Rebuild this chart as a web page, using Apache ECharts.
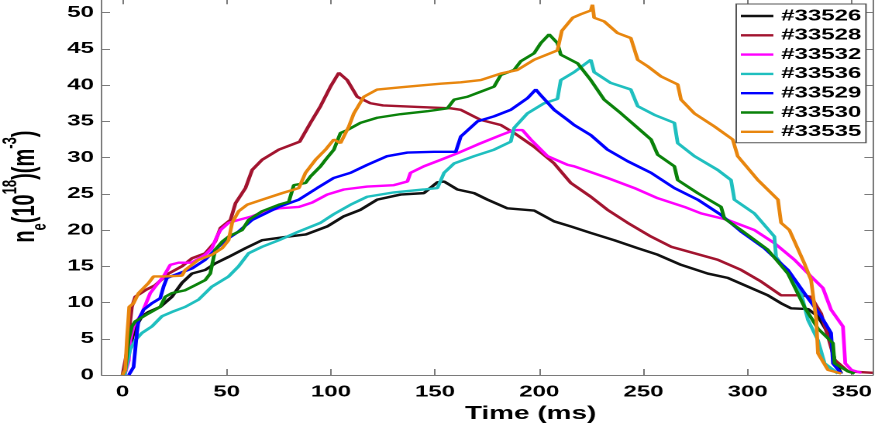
<!DOCTYPE html>
<html>
<head>
<meta charset="utf-8">
<script src="https://cdn.jsdelivr.net/npm/echarts@6/dist/echarts.min.js"></script>
<style>
  html, body { margin: 0; padding: 0; background: #fff; overflow: hidden; }
  #wrap { width: 885px; height: 424px; overflow: hidden; }
  /* the figure is drawn narrow and widened horizontally */
  #chart { width: 571px; height: 424px; transform: scaleX(1.5499); transform-origin: 0 0; }
</style>
</head>
<body>
<div id="wrap"><div id="chart"></div></div>
<script>
// Shot labels, in plotting order
const shotLabels = ['#33526', '#33528', '#33532', '#33536', '#33529', '#33530', '#33535'];
const shotColors = ['#111111', '#A2142F', '#FF00FF', '#1FBFBF', '#0000FF', '#0A820A', '#E8860E'];

// Tick values
const timeTicks = [0, 50, 100, 150, 200, 250, 300, 350];
const densityTicks = [0, 5, 10, 15, 20, 25, 30, 35, 40, 45, 50];

// Line-averaged density n_e (1e18 m^-3) against time (ms), [t, n_e]
const shot33526 = [[1,0],[3,3],[5,5.5],[6.9,6.9],[9.3,8.1],[12.5,8.7],[18.1,9.4],[23.7,10.8],[28.5,12.7],[33.3,14.0],[39.7,14.5],[44.5,15.4],[50.9,16.3],[59,17.5],[67,18.6],[79.6,19.1],[88,19.4],[98.2,20.5],[106.2,21.9],[114.2,22.8],[122.2,24.2],[133.4,24.9],[144.6,25.1],[151.1,26.6],[154.3,26.7],[160.7,25.6],[168.7,25.1],[175.1,24.2],[184.7,23.0],[197.5,22.7],[207.1,21.2],[215.1,20.5],[224.7,19.6],[235.9,18.6],[247.2,17.5],[256.8,16.6],[268,15.2],[280.8,14.0],[290.4,13.4],[298.4,12.4],[309.6,11.0],[316,9.9],[320.8,9.2],[328.9,9.1],[333.7,8.1],[338.5,5.8],[341.7,2.1],[344.9,0.2]];
const shot33528 = [[0,0],[2,3],[3.5,7],[4.5,9.4],[6.1,10.8],[10.9,11.7],[15.7,12.4],[22.1,14.0],[28.5,15.0],[33.3,16.1],[39.7,16.8],[44.5,18.4],[47,20.3],[51.8,21.4],[54.2,23.7],[59,25.8],[62.2,28.3],[67,29.7],[75,31.1],[85,32.2],[90.2,34.8],[95,37.1],[99.8,39.8],[103.8,41.7],[107.8,40.7],[112.6,38.4],[119,37.5],[125,37.2],[141.5,37.0],[157.5,36.8],[162.3,36.6],[171.9,35.2],[181.5,34.5],[187.9,33.4],[197.5,31.5],[207.1,29.2],[215.1,26.5],[224.7,24.6],[232.7,22.8],[242.4,21.0],[253.6,19.1],[263.2,17.7],[274.4,16.8],[285.6,15.9],[296.8,14.5],[306.4,12.9],[316,11.0],[325.6,11.0],[330.4,10.8],[335.2,8.5],[338.5,5.3],[341.7,2.1],[348.1,0.5],[360,0.3]];
const shot33532 = [[1,0],[3,2],[3.7,4.8],[5.3,6.7],[9.3,8.5],[13.3,11.3],[15.7,12.2],[19.7,13.6],[22.9,15.2],[26.9,15.5],[33.3,15.5],[39.7,16.6],[42.9,17.5],[45.3,19.1],[47,20.0],[50.9,21.0],[55.7,21.4],[62.2,21.9],[68.6,22.6],[75,23.0],[84.6,23.2],[91,23.8],[98.2,24.9],[106.2,25.6],[117.4,26.0],[130.2,26.2],[136.7,26.7],[138.2,27.9],[144.6,28.8],[152.7,29.7],[160.7,30.6],[170.3,31.8],[181.5,33.1],[187.9,33.8],[191.9,33.8],[195.9,32.5],[203.9,30.2],[213.6,29.0],[216.7,28.8],[232.7,27.2],[245.6,25.8],[256.8,24.4],[269.6,23.2],[277.6,22.3],[290.4,21.4],[303.2,20.0],[312.8,18.2],[322.4,15.9],[330.4,13.6],[336.1,12.0],[340,9.0],[345.7,6.7],[346.8,1.6],[349.7,0.7],[354.5,0.3]];
const shot33536 = [[1,0],[2.5,2],[3.7,3.5],[6.1,4.8],[9.3,5.8],[14.1,6.7],[18.9,8.1],[23.7,8.7],[30.1,9.4],[36.5,10.4],[42.9,12.2],[50.9,13.6],[55.7,15.0],[60.5,16.8],[67,17.7],[75,18.6],[84.6,19.8],[95,21.0],[101.4,22.2],[109.4,23.5],[117.4,24.6],[130.2,25.2],[144.6,25.6],[151.1,25.8],[154.3,27.9],[159.1,29.2],[168.7,30.2],[178.3,31.1],[186.3,32.2],[187.9,34.1],[194.3,36.1],[202.3,37.5],[208.7,38.1],[210.3,40.7],[216.7,41.8],[224.7,43.5],[226.3,41.8],[234.3,40.3],[243.9,39.4],[247.2,37.1],[255.2,35.9],[264.8,34.8],[266.4,32.0],[274.4,30.2],[285.6,28.3],[292,26.9],[293.6,24.2],[303.2,22.3],[312.8,19.1],[313.6,16.3],[319.3,14.0],[325.6,11.3],[328.9,7.6],[333.7,4.8],[336.9,1.6],[343.3,0.2]];
const shot33529 = [[3,0],[5.3,1.1],[6.9,5.8],[7.7,7.6],[10.1,9.0],[14.1,9.9],[18.1,10.6],[19.7,12.2],[21.3,13.4],[26.9,14.0],[33.3,14.7],[39.7,15.9],[44.5,17.3],[49.4,18.6],[55.7,19.8],[62.2,21.4],[68.6,22.3],[75,23.2],[84.6,24.2],[93.4,25.8],[101.4,27.2],[109.4,27.9],[117.4,29.0],[127,30.2],[136.7,30.7],[149.5,30.8],[159.9,30.8],[162.3,32.9],[170.3,35.0],[178.3,35.7],[186.3,36.6],[194.3,38.2],[198.3,39.4],[200.7,38.6],[207.1,36.6],[213.6,35.2],[216.7,34.5],[224.7,33.1],[232.7,31.1],[242.4,29.5],[253.6,27.9],[264.8,25.8],[276,24.2],[287.2,22.1],[296.8,19.8],[308,17.5],[319.3,14.5],[327.2,11.3],[335.2,8.1],[340,5.8],[340.9,1.6],[344.9,0.2]];
const shot33530 = [[0,0],[1.3,0.7],[2.9,4.8],[4.5,6.7],[6.1,7.4],[12.5,8.5],[18.1,9.4],[20.5,10.8],[23.7,11.3],[30.1,11.7],[34.9,12.4],[39.7,13.1],[42.1,14.0],[44.5,17.3],[47.8,18.4],[50.9,19.1],[57.4,20.0],[60.5,21.4],[67,22.6],[75,23.5],[79.8,23.9],[82.2,26.2],[87.8,26.5],[90.2,27.4],[95,28.8],[97.4,29.7],[101.4,31.1],[104.6,33.4],[107.8,33.8],[114.2,34.8],[122.2,35.5],[133.4,36.0],[146.3,36.4],[155.9,36.8],[159.1,38.0],[165.5,38.4],[171.9,39.1],[178.3,39.8],[181.5,41.4],[187.9,42.1],[191.1,43.3],[197.5,44.4],[200.7,45.8],[204.7,47.0],[208.7,45.8],[210.3,44.2],[218.4,43.0],[224.7,40.7],[231.1,38.0],[239.2,36.1],[245.6,34.5],[253.6,32.5],[256.8,30.4],[264.8,28.8],[266.4,26.9],[276,25.1],[287.2,23.2],[288.8,21.6],[296.8,20.0],[309.6,17.3],[319.3,14.0],[327.2,9.4],[333.7,6.4],[340.9,4.4],[341.7,1.6],[348.1,0.5],[351.3,0.2]];
const shot33535 = [[0,0],[1.3,0.7],[2.1,4.8],[3.2,9.4],[5.3,9.9],[7.7,11.3],[12.5,12.7],[14.9,13.6],[20.5,13.6],[28.5,13.7],[30.1,14.5],[36.5,15.9],[42.9,16.6],[47.8,17.5],[50.9,18.6],[52.6,21.0],[55.7,22.6],[59.8,23.5],[67,24.2],[76.6,25.1],[84.6,25.8],[87.8,27.9],[92.6,29.7],[97.4,31.1],[101.4,32.5],[104.6,32.0],[108.6,34.3],[111,36.1],[115.8,38.4],[122.2,39.4],[133.4,39.7],[144.6,40.0],[152.7,40.2],[162.3,40.4],[171.9,40.7],[181.5,41.6],[189.5,42.1],[197.5,43.5],[208.7,44.8],[210.8,47.5],[216,49.3],[220,49.8],[224.7,50.3],[225.5,51.1],[226.3,49.3],[231.1,48.8],[237.5,47.2],[243.9,46.5],[247.2,43.5],[252,42.6],[258.4,41.2],[266.4,40.1],[268,38.0],[274.4,36.1],[284,34.3],[292.8,32.5],[295.2,30.2],[304.9,26.9],[314.5,24.2],[316,21.0],[320,20.0],[327.2,15.4],[330.4,13.1],[332.9,7.6],[333.7,3.0],[338.5,0.7],[344.9,0.2]];

const shotData = [shot33526, shot33528, shot33532, shot33536, shot33529, shot33530, shot33535];

const FONT = '"Liberation Sans", Arial, sans-serif';
const axisGrey = '#7a7a7a';

const chart = echarts.init(document.getElementById('chart'), null, { renderer: 'canvas', devicePixelRatio: 2 });

const boxAxisX = (pos, showLabels) => ({
  type: 'value', position: pos, min: -10, max: 360,
  axisLine: { show: true, onZero: false, lineStyle: { color: axisGrey, width: 1 } },
  axisTick: { show: true, inside: true, length: 6, customValues: timeTicks, lineStyle: { color: axisGrey } },
  axisLabel: showLabels ? { show: true, customValues: timeTicks, margin: 9, color: '#000', fontSize: 15.5, fontWeight: 'bold', fontFamily: FONT } : { show: false },
  splitLine: { show: false }
});
const boxAxisY = (pos, showLabels) => ({
  type: 'value', position: pos, min: 0, max: 52,
  axisLine: { show: true, onZero: false, lineStyle: { color: axisGrey, width: 1 } },
  axisTick: { show: true, inside: true, length: 5.4, customValues: densityTicks, lineStyle: { color: axisGrey } },
  axisLabel: showLabels ? { show: true, customValues: densityTicks, margin: 5, color: '#000', fontSize: 15.5, fontWeight: 'bold', fontFamily: FONT } : { show: false },
  splitLine: { show: false }
});

const xMain = boxAxisX('bottom', true);
xMain.name = 'Time (ms)';
xMain.nameLocation = 'middle';
xMain.nameGap = 22;
xMain.nameTextStyle = { color: '#000', fontSize: 18, fontWeight: 'bold', fontFamily: FONT, padding: [0, 0, 0, 56] };

const yMain = boxAxisY('left', true);
yMain.name = '{b|n}{s|e}{b|(10}{p|18}{b|)(m}{p|-3}{b|)}';
yMain.nameLocation = 'middle';
yMain.nameRotate = 90;
yMain.nameGap = 25;
yMain.nameTextStyle = {
  color: '#000', fontFamily: FONT, fontWeight: 'bold',
  rich: {
    b: { fontSize: 20, fontWeight: 'bold', fontFamily: FONT, color: '#000', lineHeight: 32, verticalAlign: 'middle' },
    s: { fontSize: 13, fontWeight: 'bold', fontFamily: FONT, color: '#000', lineHeight: 14, verticalAlign: 'bottom' },
    p: { fontSize: 13, fontWeight: 'bold', fontFamily: FONT, color: '#000', lineHeight: 14, verticalAlign: 'top' }
  }
};

chart.setOption({
  animation: false,
  backgroundColor: '#fff',
  grid: { left: 65.6, right: 7.9, top: -1.8, bottom: 49, containLabel: false, outerBoundsMode: 'none' },
  xAxis: [xMain, boxAxisX('top', false)],
  yAxis: [yMain, boxAxisY('right', false)],
  legend: {
    orient: 'vertical', left: 475, top: 4,
    padding: [4, 3, 3, 3],
    icon: 'rect',
    itemWidth: 21, itemHeight: 2.4, itemGap: 3.3,
    backgroundColor: '#fff', borderColor: '#555', borderWidth: 1,
    textStyle: { color: '#000', fontSize: 15.5, fontWeight: 'bold', fontFamily: FONT, lineHeight: 16 },
    data: shotLabels
  },
  series: shotLabels.map((label, i) => ({
    name: label,
    type: 'line',
    xAxisIndex: 0, yAxisIndex: 0,
    data: shotData[i],
    symbol: 'none',
    color: shotColors[i],
    lineStyle: { width: 2.4, color: shotColors[i] },
    emphasis: { disabled: true }
  }))
});
</script>
</body>
</html>
